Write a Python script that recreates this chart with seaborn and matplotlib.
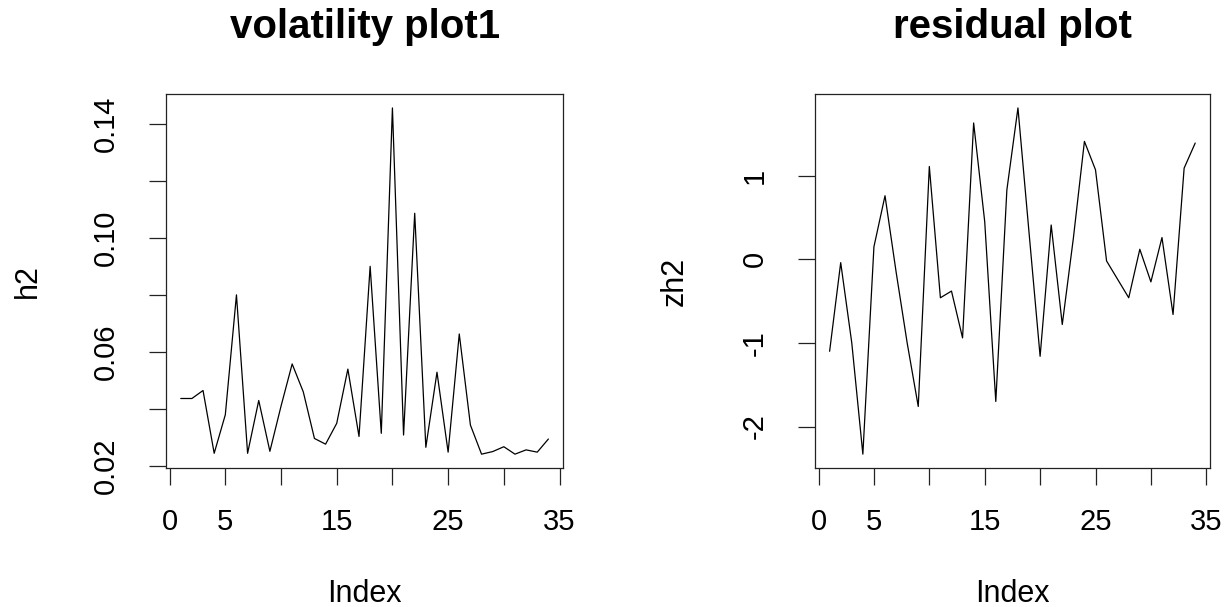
import numpy as np
import pandas as pd
import matplotlib
matplotlib.use("Agg")
import matplotlib.pyplot as plt
import seaborn as sns

# -----------------------------
# Data
# -----------------------------
h2 = [0.0437, 0.0437, 0.0465, 0.0245, 0.0380, 0.0800, 0.0245, 0.0430, 0.0252,
      0.0410, 0.0558, 0.0460, 0.0297, 0.0277, 0.0350, 0.0540, 0.0304, 0.0900,
      0.0315, 0.1455, 0.0309, 0.1086, 0.0266, 0.0529, 0.0249, 0.0663, 0.0344,
      0.0242, 0.0251, 0.0268, 0.0242, 0.0257, 0.0249, 0.0295]

zh2 = [-1.10, -0.04, -1.00, -2.33, 0.15, 0.76, -0.15, -1.00, -1.76,
       1.11, -0.46, -0.38, -0.94, 1.63, 0.45, -1.70, 0.83, 1.81,
       0.32, -1.16, 0.41, -0.78, 0.25, 1.41, 1.07, -0.02, -0.24,
       -0.46, 0.12, -0.27, 0.26, -0.66, 1.09, 1.39]

x_ticks = [0, 5, 10, 15, 20, 25, 30, 35]
x_tick_labels = ["0", "5", "", "15", "", "25", "", "35"]

h2_ticks = [0.02, 0.04, 0.06, 0.08, 0.10, 0.12, 0.14]
h2_tick_labels = ["0.02", "", "0.06", "", "0.10", "", "0.14"]

zh2_ticks = [-2, -1, 0, 1]
zh2_tick_labels = ["-2", "-1", "0", "1"]

titles = ["volatility plot1", "residual plot"]
ylabels = ["h2", "zh2"]

df = pd.DataFrame({"Index": np.arange(1, len(h2) + 1), "h2": h2, "zh2": zh2})

# -----------------------------
# Style
# -----------------------------
sns.set_style("ticks")
plt.rcParams["font.family"] = ["Liberation Sans", "DejaVu Sans"]

fig = plt.figure(figsize=(12.3, 6.07), dpi=100)
ax1 = fig.add_axes([0.135, 0.229, 0.3228, 0.616])
ax2 = fig.add_axes([0.6626, 0.229, 0.321, 0.616])


def r_pad(vals):
    # R's default 4% axis extension
    lo, hi = min(vals), max(vals)
    d = (hi - lo) * 0.04
    return lo - d, hi + d


panels = [
    (ax1, "h2", h2_ticks, h2_tick_labels, -0.309),
    (ax2, "zh2", zh2_ticks, zh2_tick_labels, -0.316),
]

for i, (ax, col, yt, ytl, ylab_x) in enumerate(panels):
    sns.lineplot(data=df, x="Index", y=col, ax=ax, color="black", linewidth=0.9)
    ax.set_xlim(*r_pad(df["Index"]))
    ax.set_ylim(*r_pad(df[col]))

    ax.set_xticks(x_ticks)
    ax.set_xticklabels(x_tick_labels)
    ax.set_yticks(yt)
    ax.set_yticklabels(ytl, rotation=90, va="center")

    ax.tick_params(axis="both", length=12, width=0.9, labelsize=21,
                   color="#222222", labelcolor="black")
    ax.tick_params(axis="x", pad=17)
    ax.tick_params(axis="y", pad=21)

    for s in ax.spines.values():
        s.set_visible(True)
        s.set_linewidth(0.9)
        s.set_color("#222222")

    ax.set_xlabel("Index", fontsize=22, color="black")
    ax.xaxis.set_label_coords(0.5, -0.296)
    ax.set_ylabel(ylabels[i], fontsize=22, color="black")
    ax.yaxis.set_label_coords(ylab_x, 0.5)

    ax.set_title(titles[i], fontsize=29, fontweight="bold", color="black",
                 y=1.15, pad=0)

fig.savefig("out.png", dpi=100)
